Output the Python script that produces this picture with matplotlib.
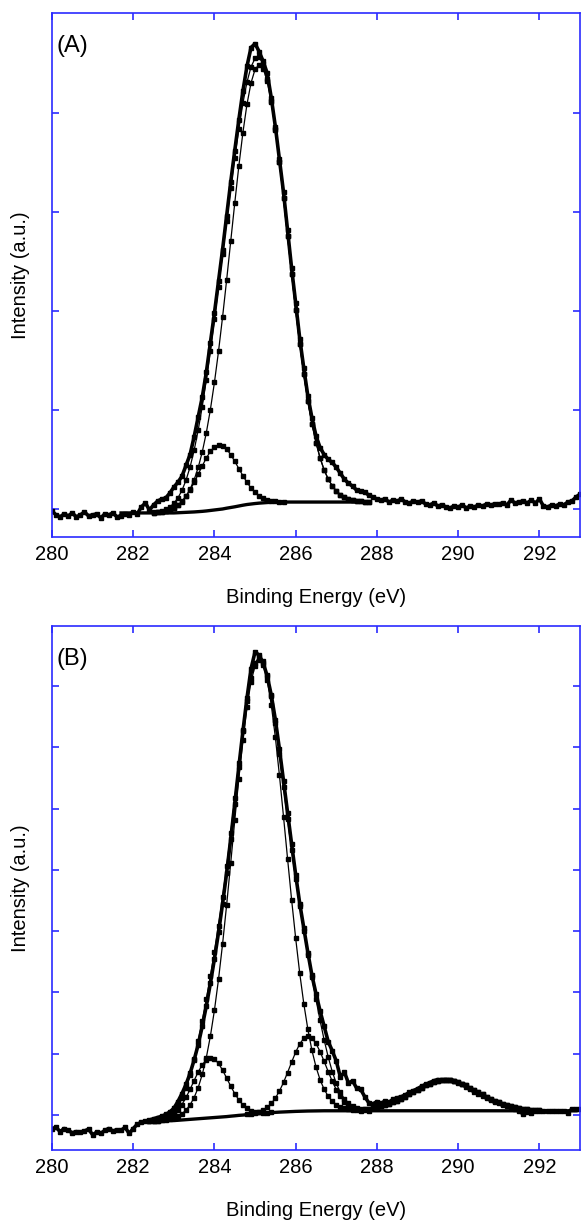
import numpy as np
import matplotlib
matplotlib.use("Agg")
import matplotlib.pyplot as plt

plt.rcParams['font.family'] = ['Liberation Sans', 'DejaVu Sans']

# ---------------- Panel A ----------------
data_x = np.round(np.arange(280.0, 293.05, 0.1), 1)
dataA_y = [-0.02, -0.06, -0.08, -0.05, -0.07, -0.04, -0.08, -0.06, -0.03, -0.07,
           -0.06, -0.05, -0.09, -0.05, -0.06, -0.04, -0.08, -0.07, -0.05, -0.06,
           -0.03, -0.05, 0.02, 0.06, -0.01, 0.04, 0.08, 0.10, 0.11, 0.16,
           0.22, 0.27, 0.33, 0.44, 0.55, 0.73, 0.93, 1.13, 1.38, 1.68,
           1.98, 2.30, 2.62, 2.96, 3.30, 3.62, 3.93, 4.22, 4.47, 4.66,
           4.70, 4.62, 4.52, 4.40, 4.15, 3.86, 3.53, 3.20, 2.82, 2.43,
           2.08, 1.72, 1.42, 1.14, 0.92, 0.74, 0.62, 0.55, 0.50, 0.47,
           0.42, 0.36, 0.30, 0.26, 0.23, 0.19, 0.18, 0.17, 0.14, 0.12,
           0.10, 0.09, 0.10, 0.07, 0.09, 0.08, 0.10, 0.07, 0.06, 0.08,
           0.07, 0.08, 0.05, 0.04, 0.06, 0.03, 0.04, 0.02, 0.01, 0.03,
           0.02, 0.04, 0.01, 0.03, 0.02, 0.04, 0.03, 0.05, 0.04, 0.05,
           0.05, 0.06, 0.04, 0.09, 0.06, 0.07, 0.08, 0.06, 0.09, 0.06,
           0.10, 0.03, 0.02, 0.04, 0.03, 0.05, 0.04, 0.07, 0.08, 0.12,
           0.15]

bgA_x = np.round(np.arange(281.7, 287.85, 0.1), 1)    # 281.7 .. 287.8
bgA = [-0.04, -0.04, -0.04, -0.04, -0.04, -0.04, -0.04, -0.04,
       -0.04, -0.04, -0.04, -0.04, -0.04, -0.04, -0.038, -0.036, -0.034, -0.032,
       -0.03, -0.027, -0.024, -0.02, -0.015, -0.01, -0.005, 0.0, 0.008, 0.015,
       0.022, 0.03, 0.038, 0.045, 0.05, 0.055, 0.059, 0.062, 0.065, 0.067,
       0.069, 0.07, 0.07, 0.07, 0.07, 0.07, 0.07, 0.07, 0.07, 0.07,
       0.07, 0.07, 0.07, 0.07, 0.07, 0.07, 0.07, 0.07, 0.07, 0.07,
       0.07, 0.07, 0.07, 0.07]

fitA_x = np.round(np.arange(282.5, 287.85, 0.1), 1)   # 282.5 .. 287.8
compA1 = [-0.038, -0.035, -0.031, -0.023, -0.011, 0.007, 0.036, 0.076, 0.128, 0.192,
          0.268, 0.351, 0.435, 0.515, 0.581, 0.626, 0.645, 0.636, 0.604, 0.550,
          0.481, 0.408, 0.336, 0.269, 0.212, 0.167, 0.133, 0.109, 0.094, 0.084,
          0.078, 0.075, 0.072]
compA2 = [-0.036, -0.033, -0.028, -0.020, -0.008, 0.009, 0.037, 0.075, 0.129, 0.200,
          0.295, 0.419, 0.576, 0.770, 1.004, 1.279, 1.592, 1.939, 2.313, 2.702,
          3.090, 3.462, 3.800, 4.086, 4.303, 4.440, 4.489, 4.447, 4.318, 4.108,
          3.831, 3.502, 3.138, 2.757, 2.375, 2.009, 1.667, 1.359, 1.089, 0.860,
          0.670, 0.516, 0.395, 0.302, 0.233, 0.181, 0.145, 0.119, 0.102, 0.090,
          0.082, 0.078, 0.075, 0.073]
envA = [-0.034, -0.028, -0.019, -0.003, 0.021, 0.056, 0.111, 0.187, 0.291, 0.424,
        0.593, 0.797, 1.035, 1.305, 1.600, 1.915, 2.242, 2.575, 2.909, 3.237,
        3.549, 3.840, 4.098, 4.310, 4.465, 4.552, 4.563, 4.494, 4.347, 4.125,
        3.840, 3.507, 3.141, 2.757, 2.375, 2.009, 1.667, 1.359, 1.089, 0.860,
        0.670, 0.516, 0.395, 0.302, 0.233, 0.181, 0.145, 0.119, 0.102, 0.090,
        0.082, 0.078, 0.075, 0.073]

# ---------------- Panel B ----------------
dataB_y = [-0.22, -0.20, -0.27, -0.22, -0.25, -0.29, -0.27, -0.28, -0.26, -0.23,
           -0.32, -0.28, -0.30, -0.25, -0.22, -0.26, -0.24, -0.25, -0.20, -0.30,
           -0.22, -0.15, -0.12, -0.10, -0.08, -0.06, -0.04, -0.02, 0.01, 0.05,
           0.11, 0.22, 0.35, 0.50, 0.68, 0.90, 1.15, 1.45, 1.78, 2.15,
           2.55, 2.98, 3.45, 3.95, 4.50, 5.08, 5.68, 6.26, 6.80, 7.28,
           7.56, 7.50, 7.38, 7.16, 6.85, 6.45, 5.97, 5.45, 4.93, 4.42,
           3.92, 3.45, 3.05, 2.65, 2.28, 1.98, 1.70, 1.45, 1.20, 1.05,
           0.88, 0.62, 0.70, 0.52, 0.56, 0.44, 0.42, 0.30, 0.20, 0.18,
           0.22, 0.19, 0.23, 0.21, 0.26, 0.28, 0.30, 0.33, 0.37, 0.40,
           0.43, 0.47, 0.50, 0.53, 0.56, 0.58, 0.57, 0.58, 0.57, 0.56,
           0.53, 0.50, 0.46, 0.42, 0.38, 0.35, 0.31, 0.28, 0.24, 0.21,
           0.19, 0.16, 0.14, 0.12, 0.10, 0.06, 0.02, 0.05, 0.03, 0.07,
           0.06, 0.07, 0.06, 0.07, 0.07, 0.06, 0.07, 0.04, 0.10, 0.10,
           0.10]

bgB_x = np.round(np.arange(282.4, 292.95, 0.1), 1)    # 282.4 .. 292.9
bgB = [-0.10, -0.10, -0.10, -0.095, -0.095, -0.09, -0.09, -0.085, -0.08, -0.075,
       -0.07, -0.065, -0.06, -0.055, -0.05, -0.045, -0.04, -0.035, -0.03, -0.025,
       -0.018, -0.012, -0.005, 0.0, 0.007, 0.013, 0.02, 0.025, 0.03, 0.035,
       0.04, 0.044, 0.048, 0.051, 0.054, 0.057, 0.06, 0.062, 0.064, 0.066,
       0.067, 0.068, 0.069, 0.07, 0.07, 0.07, 0.07, 0.07, 0.07, 0.07,
       0.07, 0.07, 0.07, 0.07, 0.07, 0.07, 0.07, 0.07, 0.07, 0.07,
       0.07, 0.07, 0.07, 0.07, 0.07, 0.07, 0.07, 0.07, 0.07, 0.07,
       0.07, 0.07, 0.07, 0.07, 0.07, 0.07, 0.07, 0.07, 0.07, 0.07,
       0.07, 0.07, 0.07, 0.07, 0.07, 0.07, 0.07, 0.07, 0.07, 0.07,
       0.07, 0.07, 0.07, 0.07, 0.07, 0.07, 0.07, 0.07, 0.07, 0.07,
       0.07, 0.07, 0.07, 0.07, 0.07, 0.07]

fitB_x = np.round(np.arange(282.4, 292.05, 0.1), 1)   # 282.4 .. 292.0
compB1 = [-0.098, -0.096, -0.091, -0.077, -0.061, -0.029, 0.014, 0.081, 0.172, 0.287,
          0.420, 0.564, 0.704, 0.822, 0.903, 0.935, 0.913, 0.842, 0.734, 0.604,
          0.472, 0.350, 0.247, 0.166, 0.111, 0.074, 0.054, 0.043, 0.039, 0.039,
          0.042]                                            # 282.4 .. 285.4
compB2 = [-0.10, -0.10, -0.096, -0.087, -0.081, -0.067, -0.051, -0.022, 0.021, 0.081,
          0.167, 0.286, 0.448, 0.663, 0.939, 1.288, 1.712, 2.215, 2.792, 3.429,
          4.111, 4.808, 5.490, 6.117, 6.655, 7.069, 7.333, 7.425, 7.343, 7.091,
          6.688, 6.161, 5.543, 4.871, 4.183, 3.511, 2.882, 2.312, 1.816, 1.399,
          1.056, 0.786, 0.577, 0.421, 0.307, 0.226, 0.171, 0.133, 0.109, 0.093,
          0.084, 0.078, 0.074]                              # 282.4 .. 287.6
compB3_x = np.round(np.arange(284.8, 287.85, 0.1), 1)
compB3 = [0.010, 0.021, 0.036, 0.055, 0.083, 0.127, 0.190, 0.277, 0.392, 0.532,
          0.694, 0.864, 1.027, 1.162, 1.253, 1.286, 1.256, 1.168, 1.036, 0.877,
          0.710, 0.551, 0.414, 0.303, 0.220, 0.162, 0.123, 0.100, 0.086, 0.078,
          0.073]
compB4_x = np.round(np.arange(287.6, 292.05, 0.1), 1)
compB4 = [0.087, 0.093, 0.101, 0.112, 0.124, 0.140, 0.159, 0.181, 0.207, 0.235,
          0.267, 0.302, 0.338, 0.376, 0.413, 0.449, 0.483, 0.512, 0.537, 0.555,
          0.566, 0.570, 0.566, 0.555, 0.537, 0.512, 0.483, 0.449, 0.413, 0.376,
          0.338, 0.302, 0.267, 0.235, 0.207, 0.181, 0.159, 0.140, 0.124, 0.112,
          0.101, 0.093, 0.087, 0.082, 0.079]
envB = [-0.097, -0.094, -0.087, -0.069, -0.047, -0.006, 0.053, 0.144, 0.273, 0.443,
        0.657, 0.915, 1.212, 1.540, 1.892, 2.268, 2.665, 3.092, 3.556, 4.058,
        4.601, 5.170, 5.742, 6.283, 6.762, 7.138, 7.383, 7.473, 7.405, 7.187,
        6.840, 6.394, 5.887, 5.352, 4.823, 4.318, 3.849, 3.412, 3.005, 2.619,
        2.245, 1.886, 1.544, 1.228, 0.949, 0.710, 0.517, 0.369, 0.263, 0.191,
        0.146, 0.120, 0.107, 0.103, 0.105, 0.113, 0.124, 0.140, 0.159, 0.181,
        0.207, 0.235, 0.267, 0.302, 0.338, 0.376, 0.413, 0.449, 0.483, 0.512,
        0.537, 0.555, 0.566, 0.570, 0.566, 0.555, 0.537, 0.512, 0.483, 0.449,
        0.413, 0.376, 0.338, 0.302, 0.267, 0.235, 0.207, 0.181, 0.159, 0.140,
        0.124, 0.112, 0.101, 0.093, 0.087, 0.082, 0.079]

xticks = [280, 282, 284, 286, 288, 290, 292]
panel_labels = ["(A)", "(B)"]

BLUE = "#2b2bff"
fig = plt.figure(figsize=(5.82, 12.21), dpi=100)
axA = fig.add_axes([0.0893, 0.5602, 0.9073, 0.4292])
axB = fig.add_axes([0.0893, 0.0581, 0.9073, 0.4292])

line_kw = dict(color="black", marker="s", markersize=2.4, linewidth=0.9)
FS = 14.5


def style(ax, ylim, nyt, label):
    ax.set_xlim(280, 293)
    ax.set_ylim(*ylim)
    ax.set_xticks(xticks)
    ax.set_xticklabels([str(t) for t in xticks], fontsize=FS)
    ax.set_yticks(list(range(nyt)))
    ax.set_yticklabels([])
    for s in ax.spines.values():
        s.set_color(BLUE)
        s.set_linewidth(1.2)
    ax.tick_params(axis="both", direction="in", color=BLUE, length=5, width=1.2,
                   top=True, right=True, labelcolor="black", pad=6)
    ax.set_xlabel("Binding Energy (eV)", fontsize=FS, labelpad=17)
    ax.set_ylabel("Intensity (a.u.)", fontsize=FS, labelpad=10)
    ax.text(0.008, 0.937, label, transform=ax.transAxes, fontsize=17,
            va="center", ha="left")


# Panel A
axA.plot(bgA_x, bgA, color="black", linewidth=2.4)
axA.plot(fitA_x[:len(compA1)], compA1, **line_kw)
axA.plot(fitA_x, compA2, **line_kw)
axA.plot(fitA_x, envA, **line_kw)
axA.plot(data_x, dataA_y, color="black", linewidth=2.6, marker="s", markersize=2.2)
style(axA, (-0.283, 5.01), 5, panel_labels[0])

# Panel B
axB.plot(bgB_x, bgB, color="black", linewidth=2.4)
axB.plot(fitB_x[:len(compB1)], compB1, **line_kw)
axB.plot(fitB_x[:len(compB2)], compB2, **line_kw)
axB.plot(compB3_x, compB3, **line_kw)
axB.plot(compB4_x, compB4, **line_kw)
axB.plot(fitB_x, envB, **line_kw)
axB.plot(data_x, dataB_y, color="black", linewidth=2.6, marker="s", markersize=2.2)
style(axB, (-0.571, 7.98), 8, panel_labels[1])

fig.savefig("out.png", dpi=100)
